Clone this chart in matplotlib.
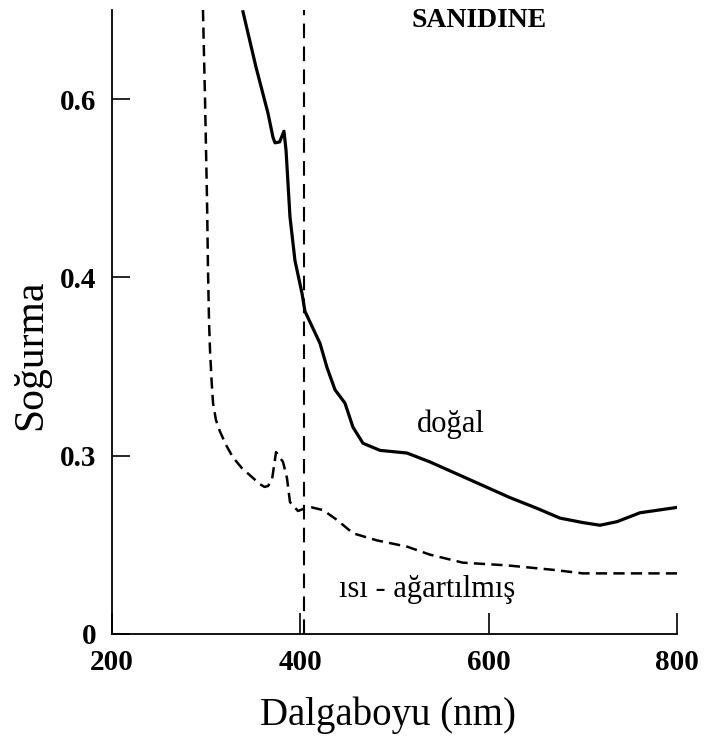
import matplotlib
matplotlib.use("Agg")
import matplotlib.pyplot as plt

# --- data ---
natural_wl = [339.1, 352.9, 365.7, 371.0, 373.1, 378.0, 382.6, 384.8, 389.0, 394.3, 401.8,
              404.9, 420.9, 428.3, 436.8, 447.4, 455.9, 466.5, 484.6, 513.3, 537.7,
              580.2, 622.6, 651.3, 675.7, 700.0, 718.2, 736.3, 760.7, 800.0]
natural_abs = [0.698, 0.636, 0.584, 0.557, 0.551, 0.552, 0.564, 0.543, 0.468, 0.419, 0.382,
               0.362, 0.326, 0.299, 0.274, 0.259, 0.232, 0.214, 0.206, 0.203, 0.193,
               0.173, 0.153, 0.141, 0.130, 0.125, 0.122, 0.126, 0.136, 0.142]

bleached_wl = [296.6, 298.8, 300.9, 301.9, 303.0, 304.1, 305.7, 307.3, 310.4, 314.7, 321.1,
               328.5, 338.0, 348.7, 357.2, 362.0, 365.7, 369.9, 374.2, 381.6, 385.8, 389.0,
               397.5, 404.9, 412.4, 424.1, 438.9, 455.9, 481.4, 513.3, 537.7, 572.7, 619.4,
               668.3, 700.2, 800.0]
bleached_abs = [0.700, 0.599, 0.487, 0.412, 0.352, 0.318, 0.285, 0.259, 0.240, 0.227, 0.212,
                0.198, 0.186, 0.176, 0.168, 0.165, 0.166, 0.173, 0.204, 0.193, 0.175, 0.148,
                0.138, 0.141, 0.142, 0.139, 0.128, 0.113, 0.105, 0.098, 0.089, 0.080, 0.077,
                0.072, 0.068, 0.068]

marker_wl = 404

xticks = [200, 400, 600, 800]
xtick_labels = ["200", "400", "600", "800"]
yticks = [0, 0.2, 0.4, 0.6]
ytick_labels = ["0", "0.3", "0.4", "0.6"]

title_text = "SANIDINE"
xlabel_text = "Dalgaboyu (nm)"
ylabel_text = "Soğurma"
natural_label = "doğal"
bleached_label = "ısı - ağartılmış"

# --- figure ---
W, H = 704, 740
fig = plt.figure(figsize=(W / 100, H / 100), dpi=100)
ax = fig.add_axes([112 / W, (H - 634) / H, (677 - 112) / W, (634 - 10) / H])

ax.plot(natural_wl, natural_abs, color="black", lw=2.3, solid_joinstyle="round")
ax.plot(bleached_wl, bleached_abs, color="black", lw=1.8, dashes=(4.5, 2.5))
ax.axvline(marker_wl, color="black", lw=1.5, dashes=(7, 4))

ax.set_xlim(200, 800)
ax.set_ylim(0, 0.70)

for s in ["top", "right"]:
    ax.spines[s].set_visible(False)
for s in ["left", "bottom"]:
    ax.spines[s].set_linewidth(1.3)

ax.set_xticks(xticks)
ax.set_xticklabels(xtick_labels, family="Liberation Serif", fontweight="bold", fontsize=21)
ax.set_yticks(yticks)
ax.set_yticklabels(ytick_labels, family="Liberation Serif", fontweight="bold", fontsize=21)
ax.tick_params(axis="x", direction="in", length=15, width=1.2, pad=11)
ax.tick_params(axis="y", direction="in", length=13, width=1.2, pad=11)

ax.text(589.7, 0.681, title_text, ha="center", va="baseline",
        family="Liberation Serif", fontweight="bold", fontsize=20)
ax.text(560, 0.2265, natural_label, ha="center", va="baseline",
        family="Liberation Serif", fontsize=22)
ax.text(534.5, 0.0415, bleached_label, ha="center", va="baseline",
        family="Liberation Serif", fontsize=22)

fig.text(388 / W, 1 - 725 / H, xlabel_text, ha="center", va="baseline",
         family="Liberation Serif", fontsize=28)
fig.text(31 / W, 1 - 355 / H, ylabel_text, ha="center", va="center", rotation=90,
         family="Liberation Serif", fontsize=30)

fig.savefig("out.png", dpi=100, facecolor="white")
